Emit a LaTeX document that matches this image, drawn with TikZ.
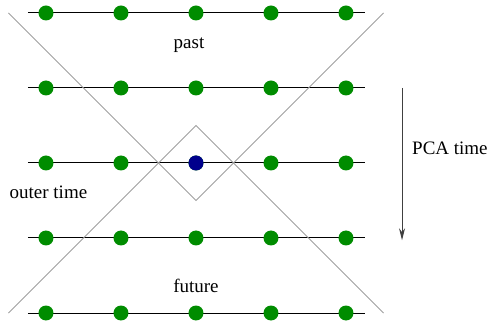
\documentclass[tikz,border=0pt]{standalone}
\usepackage{fontspec}
\setmainfont{Liberation Serif}
\usetikzlibrary{arrows.meta}
\definecolor{dotgreen}{RGB}{0,140,0}
\definecolor{dotblue}{RGB}{0,0,140}
\definecolor{conegray}{RGB}{160,160,160}
\tikzset{
  site/.style={circle, fill=dotgreen, inner sep=0pt, minimum size=15pt},
  centre/.style={site, fill=dotblue},
  rowline/.style={line width=1pt, black},
  cone/.style={line width=0.9pt, conegray},
  label/.style={font=\fontsize{19}{22}\selectfont, anchor=base, inner sep=0pt},
  timearrow/.style={line width=1pt, black!75, -{Stealth[length=12pt,width=6pt]}}
}
\begin{document}
\begin{tikzpicture}[x=75pt,y=75pt]
  \useasboundingbox (-2.6133,-2.1467) rectangle (3.88,2.1733);

  % horizontal time slices
  \foreach \r in {-2,...,2} {
    \coordinate (L\r) at (-2.24,\r);
    \coordinate (R\r) at (2.25,\r);
    \draw[rowline] (L\r) -- (R\r);
  }

  % the two cones, apexes just above and below the centre site
  \coordinate (ptl) at (-2.5,2);
  \coordinate (ptr) at (2.5,2);
  \coordinate (pap) at (0,-0.5);
  \coordinate (fbl) at (-2.5,-2);
  \coordinate (fbr) at (2.5,-2);
  \coordinate (fap) at (0,0.5);
  \draw[cone] (ptl) -- (pap) -- (ptr);
  \draw[cone] (fbl) -- (fap) -- (fbr);

  % lattice sites
  \foreach \r in {-2,...,2} {
    \foreach \c in {-2,...,2} {
      \node[site] (s\c\r) at (\c,\r) {};
    }
  }
  \node[centre] (s00c) at (0,0) {};

  % labels
  \node[label] (past) at (-0.093,1.533) {past};
  \node[label] (future) at (0,-1.733) {future};
  \node[label] (outer) at (-1.967,-0.467) {outer time};
  \node[label, anchor=base west] (pca) at (2.88,0.107) {PCA time};

  % PCA time arrow
  \coordinate (atop) at (2.747,1);
  \coordinate (abot) at (2.747,-1.03);
  \draw[timearrow] (atop) -- (abot);
\end{tikzpicture}
\end{document}
